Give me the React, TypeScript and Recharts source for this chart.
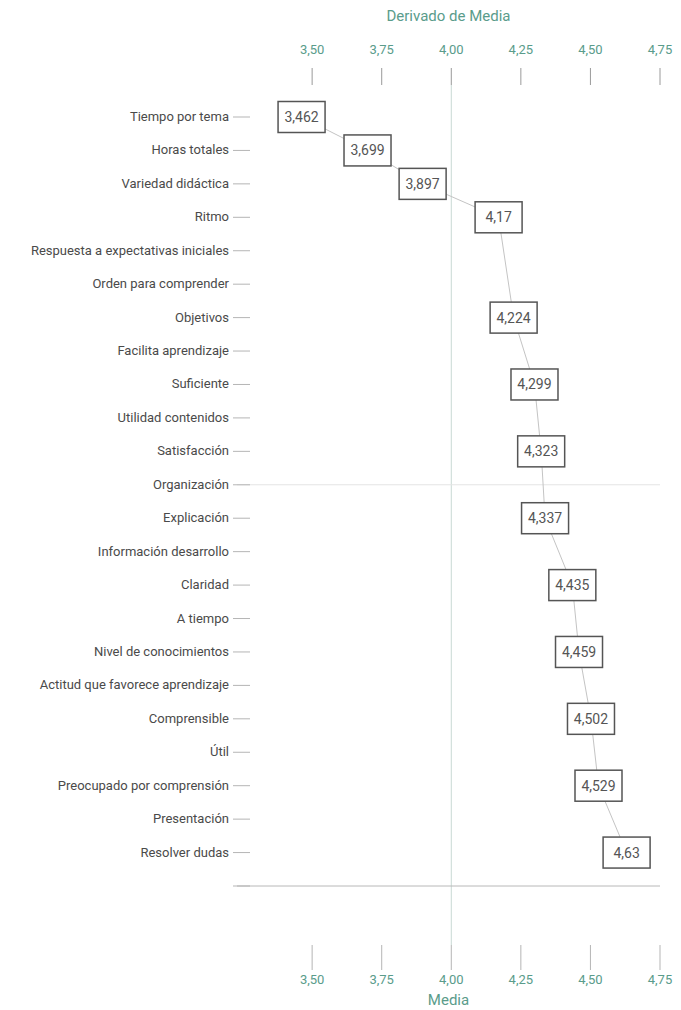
import { Label, LabelList, Line, LineChart, ReferenceLine, XAxis, YAxis } from "recharts";

const categories = [
  "Tiempo por tema",
  "Horas totales",
  "Variedad didáctica",
  "Ritmo",
  "Respuesta a expectativas iniciales",
  "Orden para comprender",
  "Objetivos",
  "Facilita aprendizaje",
  "Suficiente",
  "Utilidad contenidos",
  "Satisfacción",
  "Organización",
  "Explicación",
  "Información desarrollo",
  "Claridad",
  "A tiempo",
  "Nivel de conocimientos",
  "Actitud que favorece aprendizaje",
  "Comprensible",
  "Útil",
  "Preocupado por comprensión",
  "Presentación",
  "Resolver dudas",
  " ",
];

// null = sin valor mostrado
const media = [
  3.462, 3.699, 3.897, 4.17, null, null, 4.224, null, 4.299, null, 4.323, null,
  4.337, null, 4.435, null, 4.459, null, 4.502, null, 4.529, null, 4.63, null,
];

const xTicks = [3.5, 3.75, 4.0, 4.25, 4.5, 4.75];

const data = categories.map((name, i) => ({ name, media: media[i] }));

const TEAL = "#5a9c8b";
const PLOT_LEFT = 237;
const FONT = "Roboto, 'Noto Sans', sans-serif";
const DOMAIN: [number, number] = [3.23, 4.75];

const fmt = (v: number) => v.toFixed(2).replace(".", ",");

function CategoryTick(props: any) {
  const { y, payload } = props;
  return (
    <g>
      <text x={PLOT_LEFT - 8} y={y} dy={4} textAnchor="end" fill="#4a4a4a" fontSize={13} fontFamily={FONT}>
        {payload.value}
      </text>
      <line x1={PLOT_LEFT - 4} x2={PLOT_LEFT + 13} y1={y} y2={y} stroke="#b5b5b5" strokeWidth={1} />
    </g>
  );
}

function ValueBox(props: any) {
  const { x, y, value } = props;
  if (value === null || value === undefined || x == null || y == null) return null;
  const w = 47;
  const h = 31;
  return (
    <g>
      <rect x={x - w / 2} y={y - h / 2} width={w} height={h} fill="#fff" stroke="#555" strokeWidth={1.5} />
      <text x={x} y={y} dy={5} textAnchor="middle" fill="#555" fontSize={14} fontFamily={FONT}>
        {String(value).replace(".", ",")}
      </text>
    </g>
  );
}

export default function App() {
  return (
    <div style={{ position: "absolute", left: 0, top: 0, width: 681, height: 1010, background: "#fff" }}>
      <LineChart
        width={681}
        height={1010}
        data={data}
        layout="vertical"
        margin={{ top: 0, right: 21, bottom: 0, left: 0 }}
      >
        <XAxis
          xAxisId="top"
          orientation="top"
          type="number"
          domain={DOMAIN}
          ticks={xTicks}
          tickFormatter={fmt}
          height={85}
          axisLine={false}
          tickLine={{ stroke: "#9a9a9a" }}
          tickSize={17}
          tickMargin={14}
          tick={{ fill: TEAL, fontSize: 13, fontFamily: FONT }}
        >
          <Label value="Derivado de Media" position="insideTop" offset={10} fill={TEAL} fontSize={15} fontFamily={FONT} />
        </XAxis>
        <XAxis
          xAxisId="bottom"
          orientation="bottom"
          type="number"
          domain={DOMAIN}
          ticks={xTicks}
          tickFormatter={fmt}
          height={65}
          axisLine={false}
          tickLine={{ stroke: "#b5b5b5" }}
          tickSize={25}
          tickMargin={5}
          tick={{ fill: TEAL, fontSize: 13, fontFamily: FONT }}
        >
          <Label value="Media" position="insideBottom" offset={5} fill={TEAL} fontSize={15} fontFamily={FONT} />
        </XAxis>
        <YAxis
          type="category"
          dataKey="name"
          width={PLOT_LEFT}
          axisLine={false}
          tickLine={false}
          interval={0}
          padding={{ top: 32, bottom: 59 }}
          tick={<CategoryTick />}
        />
        <ReferenceLine xAxisId="bottom" x={4} stroke="#c9d9d4" strokeWidth={1} />
        <ReferenceLine xAxisId="bottom" y="Organización" stroke="#e4e4e4" strokeWidth={1} />
        <ReferenceLine xAxisId="bottom" y=" " stroke="#b8b8b8" strokeWidth={1} />
        <Line
          xAxisId="top"
          dataKey="media"
          stroke="none"
          dot={false}
          activeDot={false}
          connectNulls
          isAnimationActive={false}
        />
        <Line
          xAxisId="bottom"
          dataKey="media"
          type="linear"
          stroke="#c4c4c4"
          strokeWidth={1}
          dot={false}
          connectNulls
          isAnimationActive={false}
        >
          <LabelList dataKey="media" content={<ValueBox />} />
        </Line>
      </LineChart>
    </div>
  );
}
